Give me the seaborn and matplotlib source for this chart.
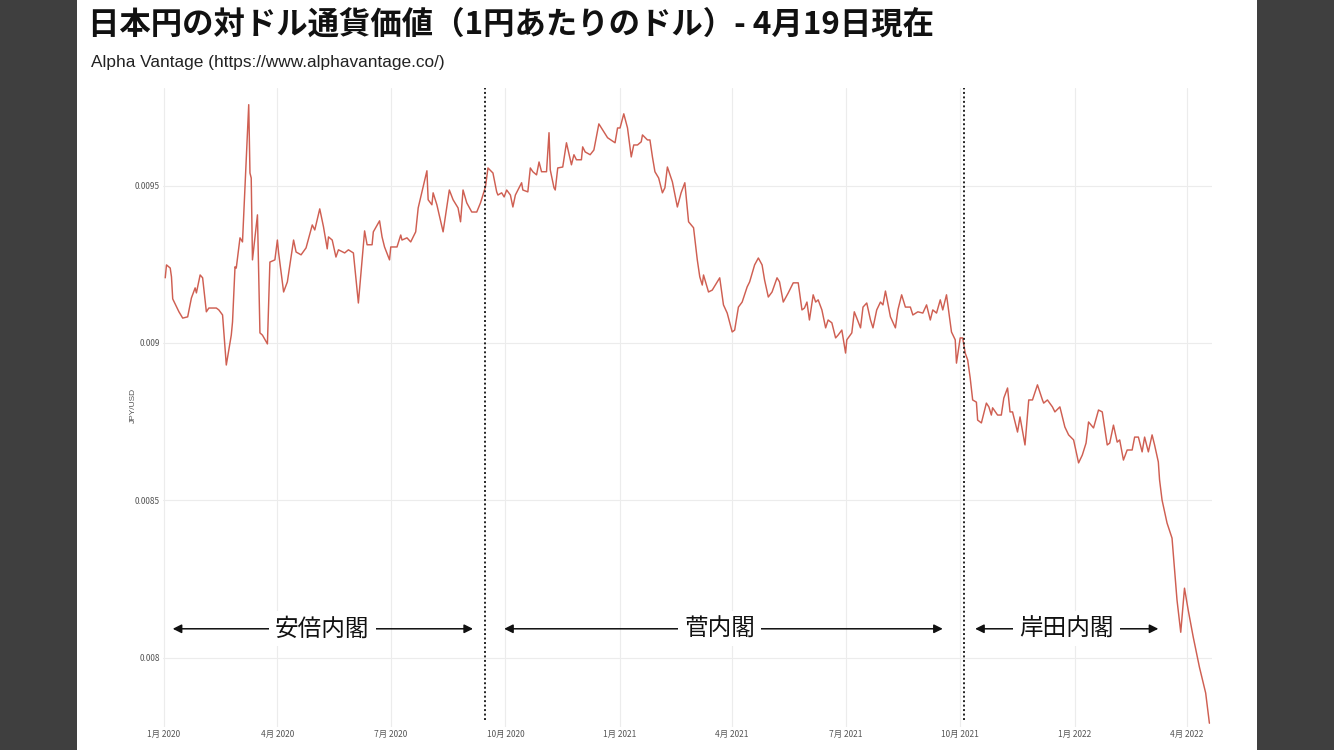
import matplotlib
matplotlib.use("Agg")
import matplotlib.pyplot as plt
import matplotlib.dates as mdates
import matplotlib.patches as mpatches
import numpy as np
import pandas as pd
import seaborn as sns

# ---------------- data ----------------
dates = [
    "2020-01-02", "2020-01-03", "2020-01-06", "2020-01-07", "2020-01-08", "2020-01-13", "2020-01-16",
    "2020-01-20", "2020-01-23", "2020-01-26", "2020-01-27", "2020-01-30", "2020-02-01", "2020-02-04",
    "2020-02-06", "2020-02-09", "2020-02-12", "2020-02-14", "2020-02-17", "2020-02-20", "2020-02-24",
    "2020-02-25", "2020-02-27", "2020-02-28", "2020-03-02", "2020-03-04", "2020-03-09", "2020-03-10",
    "2020-03-11", "2020-03-12", "2020-03-16", "2020-03-18", "2020-03-20", "2020-03-24", "2020-03-26",
    "2020-03-30", "2020-04-01", "2020-04-02", "2020-04-06", "2020-04-09", "2020-04-14", "2020-04-16",
    "2020-04-20", "2020-04-24", "2020-04-29", "2020-05-01", "2020-05-05", "2020-05-08", "2020-05-11",
    "2020-05-12", "2020-05-15", "2020-05-18", "2020-05-20", "2020-05-25", "2020-05-28", "2020-06-01",
    "2020-06-05", "2020-06-10", "2020-06-12", "2020-06-16", "2020-06-17", "2020-06-22", "2020-06-24",
    "2020-06-26", "2020-06-30", "2020-07-01", "2020-07-06", "2020-07-09", "2020-07-10", "2020-07-14",
    "2020-07-17", "2020-07-21", "2020-07-23", "2020-07-30", "2020-07-31", "2020-08-03", "2020-08-04",
    "2020-08-07", "2020-08-12", "2020-08-17", "2020-08-20", "2020-08-24", "2020-08-26", "2020-08-28",
    "2020-08-31", "2020-09-04", "2020-09-08", "2020-09-11", "2020-09-15", "2020-09-17", "2020-09-21",
    "2020-09-24", "2020-09-25", "2020-09-28", "2020-09-30", "2020-10-02", "2020-10-05", "2020-10-07",
    "2020-10-09", "2020-10-14", "2020-10-15", "2020-10-19", "2020-10-21", "2020-10-23", "2020-10-26",
    "2020-10-28", "2020-10-30", "2020-11-03", "2020-11-05", "2020-11-06", "2020-11-09", "2020-11-10",
    "2020-11-12", "2020-11-16", "2020-11-19", "2020-11-23", "2020-11-25", "2020-11-27", "2020-12-01",
    "2020-12-02", "2020-12-04", "2020-12-08", "2020-12-11", "2020-12-15", "2020-12-18", "2020-12-22",
    "2020-12-28", "2020-12-30", "2021-01-01", "2021-01-04", "2021-01-07", "2021-01-10", "2021-01-12",
    "2021-01-15", "2021-01-18", "2021-01-19", "2021-01-23", "2021-01-25", "2021-01-27", "2021-01-29",
    "2021-02-01", "2021-02-04", "2021-02-06", "2021-02-08", "2021-02-12", "2021-02-16", "2021-02-19",
    "2021-02-22", "2021-02-25", "2021-03-01", "2021-03-04", "2021-03-06", "2021-03-08", "2021-03-09",
    "2021-03-13", "2021-03-16", "2021-03-20", "2021-03-22", "2021-03-25", "2021-03-28", "2021-04-01",
    "2021-04-03", "2021-04-06", "2021-04-09", "2021-04-13", "2021-04-15", "2021-04-19", "2021-04-22",
    "2021-04-25", "2021-04-27", "2021-04-30", "2021-05-03", "2021-05-07", "2021-05-09", "2021-05-12",
    "2021-05-16", "2021-05-20", "2021-05-24", "2021-05-27", "2021-05-29", "2021-05-31", "2021-06-02",
    "2021-06-05", "2021-06-07", "2021-06-09", "2021-06-12", "2021-06-15", "2021-06-17", "2021-06-20",
    "2021-06-23", "2021-06-25", "2021-06-28", "2021-07-01", "2021-07-02", "2021-07-06", "2021-07-08",
    "2021-07-10", "2021-07-13", "2021-07-15", "2021-07-18", "2021-07-21", "2021-07-23", "2021-07-26",
    "2021-07-29", "2021-07-31", "2021-08-02", "2021-08-06", "2021-08-10", "2021-08-12", "2021-08-15",
    "2021-08-18", "2021-08-22", "2021-08-24", "2021-08-28", "2021-09-01", "2021-09-04", "2021-09-07",
    "2021-09-09", "2021-09-12", "2021-09-15", "2021-09-17", "2021-09-20", "2021-09-24", "2021-09-27",
    "2021-09-28", "2021-10-01", "2021-10-03", "2021-10-05", "2021-10-07", "2021-10-09", "2021-10-11",
    "2021-10-14", "2021-10-15", "2021-10-18", "2021-10-22", "2021-10-24", "2021-10-26", "2021-10-27",
    "2021-10-31", "2021-11-03", "2021-11-05", "2021-11-08", "2021-11-10", "2021-11-12", "2021-11-16",
    "2021-11-18", "2021-11-22", "2021-11-25", "2021-11-28", "2021-12-02", "2021-12-06", "2021-12-07",
    "2021-12-10", "2021-12-14", "2021-12-16", "2021-12-20", "2021-12-24", "2021-12-27", "2021-12-31",
    "2022-01-04", "2022-01-07", "2022-01-10", "2022-01-12", "2022-01-16", "2022-01-20", "2022-01-23",
    "2022-01-27", "2022-01-29", "2022-02-01", "2022-02-04", "2022-02-06", "2022-02-09", "2022-02-12",
    "2022-02-16", "2022-02-18", "2022-02-21", "2022-02-24", "2022-02-26", "2022-03-01", "2022-03-04",
    "2022-03-06", "2022-03-09", "2022-03-10", "2022-03-12", "2022-03-16", "2022-03-20", "2022-03-24",
    "2022-03-27", "2022-03-30", "2022-04-02", "2022-04-06", "2022-04-11", "2022-04-16", "2022-04-19",
]

jpy_usd = [
    0.009207, 0.009248, 0.009238, 0.009210, 0.009140, 0.009099, 0.009079,
    0.009083, 0.009143, 0.009175, 0.009159, 0.009216, 0.009207, 0.009099,
    0.009111, 0.009111, 0.009111, 0.009105, 0.009089, 0.008930, 0.009025,
    0.009067, 0.009242, 0.009238, 0.009334, 0.009321, 0.009757, 0.009540,
    0.009524, 0.009264, 0.009407, 0.009032, 0.009025, 0.008997, 0.009257,
    0.009264, 0.009327, 0.009286, 0.009162, 0.009194, 0.009327, 0.009289,
    0.009280, 0.009302, 0.009375, 0.009359, 0.009426, 0.009369, 0.009299,
    0.009337, 0.009327, 0.009273, 0.009296, 0.009286, 0.009296, 0.009286,
    0.009127, 0.009356, 0.009312, 0.009312, 0.009353, 0.009388, 0.009337,
    0.009305, 0.009264, 0.009305, 0.009305, 0.009343, 0.009327, 0.009334,
    0.009321, 0.009353, 0.009429, 0.009547, 0.009455, 0.009439, 0.009477,
    0.009439, 0.009353, 0.009486, 0.009455, 0.009429, 0.009385, 0.009486,
    0.009445, 0.009416, 0.009416, 0.009445, 0.009496, 0.009556, 0.009540,
    0.009480, 0.009470, 0.009477, 0.009464, 0.009486, 0.009470, 0.009432,
    0.009470, 0.009509, 0.009486, 0.009480, 0.009556, 0.009544, 0.009534,
    0.009575, 0.009544, 0.009544, 0.009668, 0.009550, 0.009493, 0.009486,
    0.009556, 0.009559, 0.009636, 0.009566, 0.009598, 0.009582, 0.009582,
    0.009623, 0.009607, 0.009598, 0.009613, 0.009696, 0.009677, 0.009652,
    0.009636, 0.009683, 0.009683, 0.009728, 0.009683, 0.009591, 0.009629,
    0.009629, 0.009639, 0.009661, 0.009645, 0.009645, 0.009591, 0.009544,
    0.009524, 0.009477, 0.009493, 0.009559, 0.009512, 0.009432, 0.009477,
    0.009509, 0.009385, 0.009366, 0.009264, 0.009210, 0.009184, 0.009216,
    0.009162, 0.009168, 0.009194, 0.009207, 0.009121, 0.009095, 0.009035,
    0.009041, 0.009114, 0.009130, 0.009178, 0.009194, 0.009248, 0.009270,
    0.009248, 0.009200, 0.009146, 0.009162, 0.009207, 0.009194, 0.009130,
    0.009159, 0.009191, 0.009191, 0.009105, 0.009111, 0.009130, 0.009073,
    0.009153, 0.009130, 0.009137, 0.009105, 0.009048, 0.009073, 0.009064,
    0.009016, 0.009025, 0.009041, 0.008968, 0.009010, 0.009032, 0.009099,
    0.009079, 0.009048, 0.009114, 0.009127, 0.009073, 0.009048, 0.009105,
    0.009130, 0.009121, 0.009165, 0.009083, 0.009048, 0.009105, 0.009153,
    0.009114, 0.009114, 0.009089, 0.009099, 0.009095, 0.009121, 0.009073,
    0.009105, 0.009095, 0.009137, 0.009105, 0.009153, 0.009035, 0.009010,
    0.008936, 0.009016, 0.009016, 0.008968, 0.008946, 0.008889, 0.008819,
    0.008812, 0.008755, 0.008746, 0.008809, 0.008797, 0.008771, 0.008794,
    0.008771, 0.008771, 0.008825, 0.008857, 0.008781, 0.008781, 0.008717,
    0.008765, 0.008676, 0.008819, 0.008819, 0.008867, 0.008819, 0.008809,
    0.008819, 0.008797, 0.008781, 0.008797, 0.008733, 0.008708, 0.008692,
    0.008619, 0.008644, 0.008682, 0.008749, 0.008730, 0.008787, 0.008781,
    0.008676, 0.008682, 0.008739, 0.008685, 0.008692, 0.008628, 0.008660,
    0.008660, 0.008701, 0.008701, 0.008654, 0.008701, 0.008654, 0.008708,
    0.008676, 0.008622, 0.008565, 0.008501, 0.008428, 0.008380, 0.008183,
    0.008081, 0.008221, 0.008151, 0.008066, 0.007970, 0.007888, 0.007792,
]

cabinet_names = ["安倍内閣", "菅内閣", "岸田内閣"]
cabinet_arrow_start = ["2020-01-08", "2020-09-30", "2021-10-13"]
cabinet_arrow_end = ["2020-09-05", "2021-09-17", "2022-03-09"]
cabinet_label_date = ["2020-05-07", "2021-03-22", "2021-12-25"]
cabinet_change_dates = ["2020-09-15", "2021-10-04"]

y_ticks = [0.008, 0.0085, 0.009, 0.0095]
y_tick_labels = ["0.008", "0.0085", "0.009", "0.0095"]
x_tick_dates = ["2020-01-01", "2020-04-01", "2020-07-01", "2020-10-01", "2021-01-01",
                "2021-04-01", "2021-07-01", "2021-10-01", "2022-01-01", "2022-04-01"]
x_tick_labels = ["1月 2020", "4月 2020", "7月 2020", "10月 2020", "1月 2021",
                 "4月 2021", "7月 2021", "10月 2021", "1月 2022", "4月 2022"]

title = "日本円の対ドル通貨価値（1円あたりのドル）- 4月19日現在"
subtitle = "Alpha Vantage (https://www.alphavantage.co/)"
y_label = "JPY/USD"

# ---------------- style ----------------
sns.set_theme(style="white")
plt.rcParams["font.family"] = ["Noto Sans CJK JP", "DejaVu Sans"]

W, H = 1334, 750
fig = plt.figure(figsize=(W / 100, H / 100), dpi=100, facecolor="#3f3f3f")
# white panel behind everything
panel = mpatches.Rectangle((77 / W, 0), (1257 - 77) / W, 1, transform=fig.transFigure,
                           facecolor="white", edgecolor="none", zorder=-100)
fig.add_artist(panel)

ax = fig.add_axes([162.75 / W, 23 / H, (1211.9 - 162.75) / W, 639 / H])
ax.set_zorder(5)
ax.set_facecolor("none")

df = pd.DataFrame({"date": pd.to_datetime(dates), "value": jpy_usd})
sns.lineplot(data=df, x="date", y="value", ax=ax, color="#cf5f52", linewidth=1.05, zorder=3)

ax.set_xlim(pd.Timestamp("2019-12-31"), pd.Timestamp("2022-04-21"))
ax.set_ylim(0.00778, 0.00981)

ax.set_yticks(y_ticks)
ax.set_yticklabels(y_tick_labels)
ax.set_xticks(pd.to_datetime(x_tick_dates))
ax.set_xticklabels(x_tick_labels)
ax.tick_params(axis="both", length=0, labelsize=6, labelcolor="#555555")
ax.tick_params(axis="x", pad=2)
ax.tick_params(axis="y", pad=2)

ax.grid(True, color="#ececec", linewidth=0.8, zorder=0)
for s in ax.spines.values():
    s.set_visible(False)

ax.set_xlabel("")
ax.set_ylabel(y_label, fontsize=6, color="#555555", family=["Liberation Sans", "DejaVu Sans"])
ax.yaxis.set_label_coords(-0.0245, 0.504)

# cabinet change lines
for d in cabinet_change_dates:
    ax.axvline(pd.Timestamp(d), ymin=0.011, ymax=1.0, color="#222222", linewidth=1.4,
               linestyle=(0, (1, 1.3)), zorder=4)

# cabinet arrows and labels
arrow_y = 0.008092
for name, s, e, c in zip(cabinet_names, cabinet_arrow_start, cabinet_arrow_end, cabinet_label_date):
    ax.annotate("", xy=(pd.Timestamp(e), arrow_y), xytext=(pd.Timestamp(s), arrow_y),
                arrowprops=dict(arrowstyle="<|-|>", color="#111111", lw=1.1,
                                mutation_scale=13, shrinkA=0, shrinkB=0), zorder=5)
    ax.text(pd.Timestamp(c), arrow_y, name, ha="center", va="center", fontsize=17,
            color="#111111", zorder=6,
            bbox=dict(boxstyle="square,pad=0.26", facecolor="white", edgecolor="none"))

fig.text(88 / W, 1 - 26 / H, title, ha="left", va="center", fontsize=22.6,
         fontweight="bold", color="#111111")
fig.text(91 / W, 1 - 63 / H, subtitle, ha="left", va="center", fontsize=12.4,
         color="#222222", family=["Liberation Sans", "DejaVu Sans"])

fig.savefig("out.png", dpi=100, facecolor=fig.get_facecolor())
